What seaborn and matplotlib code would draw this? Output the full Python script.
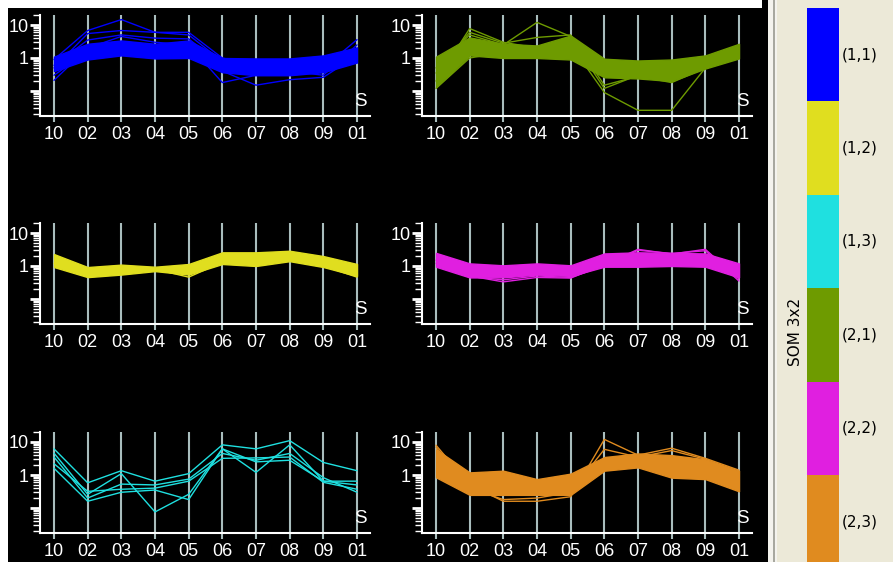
import numpy as np
import pandas as pd
import matplotlib
matplotlib.use("Agg")
import matplotlib.pyplot as plt
import seaborn as sns
from matplotlib.ticker import FixedLocator, FixedFormatter, LogLocator, NullFormatter
from matplotlib.patches import Rectangle

# ---------------- data ----------------
months = ["10", "02", "03", "04", "05", "06", "07", "08", "09", "01"]
nodes = ["(1,1)", "(1,2)", "(1,3)", "(2,1)", "(2,2)", "(2,3)"]
node_colors = ["#0000FF", "#E0DE1F", "#1FE0E0", "#6E9B00", "#E01FE0", "#E08B1F"]

# node (1,1) - blue
band_lo_11 = [0.40, 0.90, 1.20, 0.97, 1.00, 0.37, 0.30, 0.30, 0.37, 0.73]
band_hi_11 = [1.10, 2.70, 3.40, 2.70, 3.40, 1.00, 0.97, 0.97, 1.20, 2.10]
lines_11 = [
    [0.90, 6.8, 14.6, 6.0, 6.0, 1.00, 0.60, 0.50, 0.60, 1.5],
    [0.50, 5.5, 6.8, 6.0, 5.0, 0.80, 0.50, 0.60, 0.50, 3.6],
    [0.21, 2.0, 4.5, 3.0, 2.5, 0.18, 0.30, 0.40, 0.30, 2.5],
    [0.30, 1.5, 2.5, 2.0, 2.0, 0.40, 0.15, 0.22, 0.26, 1.2],
    [0.60, 3.5, 5.0, 4.0, 3.8, 0.60, 0.35, 0.40, 0.50, 1.8],
]

# node (2,1) - green
band_lo_21 = [0.13, 1.20, 1.00, 1.00, 0.90, 0.26, 0.24, 0.20, 0.48, 0.97]
band_hi_21 = [1.10, 4.20, 2.70, 2.40, 4.80, 0.95, 0.84, 0.90, 1.20, 2.70]
lines_21 = [
    [0.12, 1.0, 1.5, 1.8, 2.5, 0.09, 0.026, 0.026, 0.50, 1.2],
    [0.20, 7.8, 3.0, 2.0, 4.0, 0.12, 0.30, 0.25, 0.55, 1.5],
    [0.50, 5.0, 2.5, 12.0, 4.5, 0.40, 0.50, 0.40, 0.70, 2.0],
    [0.35, 6.0, 2.8, 4.2, 5.0, 0.15, 0.28, 0.18, 0.50, 1.8],
]

# node (1,2) - yellow
band_lo_12 = [0.93, 0.46, 0.55, 0.70, 0.55, 1.15, 1.00, 1.40, 0.93, 0.50]
band_hi_12 = [2.30, 0.93, 1.10, 0.95, 1.15, 2.60, 2.60, 2.90, 2.00, 1.15]
lines_12 = [
    [1.20, 0.50, 0.60, 0.80, 0.46, 1.30, 1.40, 1.60, 1.00, 0.46],
]

# node (2,2) - magenta
band_lo_22 = [0.95, 0.45, 0.45, 0.55, 0.50, 0.95, 0.95, 1.00, 0.95, 0.45]
band_hi_22 = [2.50, 1.20, 1.05, 1.20, 1.05, 2.40, 2.60, 2.50, 2.40, 1.20]
lines_22 = [
    [1.50, 0.50, 0.33, 0.45, 0.43, 1.10, 3.20, 2.30, 3.20, 0.40],
    [1.20, 0.48, 0.38, 0.50, 0.45, 1.00, 3.00, 2.40, 2.90, 0.35],
]

# node (1,3) - cyan (individual profiles only)
lines_13 = [
    [6.2, 0.58, 1.35, 0.65, 1.10, 8.2, 6.2, 11.0, 2.40, 1.35],
    [4.6, 0.26, 1.10, 0.076, 0.26, 6.2, 1.2, 8.2, 0.65, 0.65],
    [3.5, 0.20, 0.53, 0.50, 0.75, 4.5, 2.8, 4.5, 0.83, 0.30],
    [2.2, 0.32, 0.37, 0.40, 0.65, 3.2, 3.3, 3.5, 0.60, 0.37],
    [1.6, 0.16, 0.30, 0.35, 0.18, 6.2, 2.5, 2.8, 0.65, 0.50],
]

# node (2,3) - orange
band_lo_23 = [0.85, 0.25, 0.25, 0.25, 0.25, 1.35, 1.70, 0.83, 0.75, 0.32]
band_hi_23 = [6.00, 1.20, 1.35, 0.75, 1.10, 3.50, 4.50, 4.00, 3.00, 1.35]
lines_23 = [
    [8.0, 0.50, 0.16, 0.16, 0.22, 12.0, 4.0, 6.5, 3.2, 1.4],
    [7.0, 0.40, 0.18, 0.20, 0.30, 6.0, 3.5, 5.5, 3.0, 1.2],
]

panel_data = {
    "(1,1)": (band_lo_11, band_hi_11, lines_11),
    "(2,1)": (band_lo_21, band_hi_21, lines_21),
    "(1,2)": (band_lo_12, band_hi_12, lines_12),
    "(2,2)": (band_lo_22, band_hi_22, lines_22),
    "(1,3)": (None, None, lines_13),
    "(2,3)": (band_lo_23, band_hi_23, lines_23),
}
panel_pos = {"(1,1)": (0, 0), "(2,1)": (0, 1), "(1,2)": (1, 0),
             "(2,2)": (1, 1), "(1,3)": (2, 0), "(2,3)": (2, 1)}

# ---------------- style ----------------
sns.set_style("ticks")
plt.rcParams["font.family"] = ["Liberation Sans", "DejaVu Sans"]

W, H = 893, 562
fig = plt.figure(figsize=(W / 100, H / 100), dpi=100)
fig.patch.set_facecolor("white")


def px(x0, y0, w, h):
    return [x0 / W, 1 - (y0 + h) / H, w / W, h / H]


# backgrounds
fig.patches.append(Rectangle((8 / W, 0), 760 / W, 554 / H, transform=fig.transFigure,
                             facecolor="black", edgecolor="none", zorder=-5))
fig.patches.append(Rectangle((762 / W, 0), 6 / W, 1, transform=fig.transFigure,
                             facecolor="black", edgecolor="none", zorder=-5))
fig.patches.append(Rectangle((768 / W, 0), 9 / W, 1, transform=fig.transFigure,
                             facecolor="#F4F3EE", edgecolor="none", zorder=-5))
fig.patches.append(Rectangle((773 / W, 0), 1.5 / W, 1, transform=fig.transFigure,
                             facecolor="#A8A8A0", edgecolor="none", zorder=-4))
fig.patches.append(Rectangle((777 / W, 0), (W - 777) / W, 1, transform=fig.transFigure,
                             facecolor="#ECE9D8", edgecolor="none", zorder=-5))

grid_color = "#A9BDBD"
col_x = [40, 422]
row_y = [15, 223, 432]
ax_w, ax_h = 330, 101
x_pos = np.arange(len(months))
xl = (-14 / 33.67, 9 + 13 / 33.67)
one_off = 43.0
dec = 33.0
yl = (10 ** (-(ax_h - one_off) / dec), 10 ** (one_off / dec))

for node, color in zip(nodes, node_colors):
    r, c = panel_pos[node]
    ax = fig.add_axes(px(col_x[c], row_y[r], ax_w, ax_h))
    ax.set_facecolor("none")
    lo, hi, lines = panel_data[node]
    if lo is not None:
        ax.fill_between(x_pos, lo, hi, color=color, lw=1.0, zorder=3)
    rows = []
    for i, prof in enumerate(lines):
        for m, v in zip(x_pos, prof):
            rows.append({"x": m, "value": v, "id": i})
    df = pd.DataFrame(rows)
    sns.lineplot(data=df, x="x", y="value", units="id", estimator=None,
                 color=color, lw=1.0, ax=ax, zorder=4, legend=False)
    ax.set_yscale("log")
    ax.set_xlim(*xl)
    ax.set_ylim(*yl)
    ax.set_xlabel("")
    ax.set_ylabel("")
    ax.set_xticks(x_pos)
    ax.set_xticklabels(months)
    ax.yaxis.set_major_locator(FixedLocator([0.1, 1, 10]))
    ax.yaxis.set_major_formatter(FixedFormatter(["", "1", "10"]))
    ax.yaxis.set_minor_locator(LogLocator(base=10, subs=np.arange(2, 10)))
    ax.yaxis.set_minor_formatter(NullFormatter())
    ax.grid(axis="x", color=grid_color, lw=1.5, zorder=1)
    ax.grid(axis="y", visible=False)
    for s in ["top", "right"]:
        ax.spines[s].set_visible(False)
    for s in ["left", "bottom"]:
        ax.spines[s].set_color("white")
        ax.spines[s].set_linewidth(1.5)
    ax.tick_params(axis="x", colors=grid_color, labelcolor="white", length=4,
                   width=1.5, labelsize=13, pad=3.5)
    ax.tick_params(axis="y", which="major", colors="white", length=7, width=2,
                   labelsize=13, pad=1)
    ax.tick_params(axis="y", which="minor", colors="white", length=5, width=1)
    ax.text(0.97, 0.14, "S", transform=ax.transAxes, color="white",
            ha="center", va="center", fontsize=13.5)

# legend column
leg = fig.add_axes(px(807, 8, 32, 554))
box_h = 93.4
for i, (node, color) in enumerate(zip(nodes, node_colors)):
    leg.bar(0, 1, bottom=i, width=1, color=color, edgecolor="none")
    yc = 8 + (i + 0.5) * box_h
    fig.text(842 / W, 1 - yc / H, node, color="black", fontsize=11,
             family=["DejaVu Sans"], ha="left", va="center")
leg.set_xlim(-0.5, 0.5)
leg.set_ylim(554 / box_h, 0)
leg.axis("off")

fig.text(795 / W, 1 - 332 / H, "SOM 3x2", rotation=90, color="black",
         fontsize=11, family=["DejaVu Sans"], ha="center", va="center")

fig.savefig("out.png", dpi=100, facecolor=fig.get_facecolor())
